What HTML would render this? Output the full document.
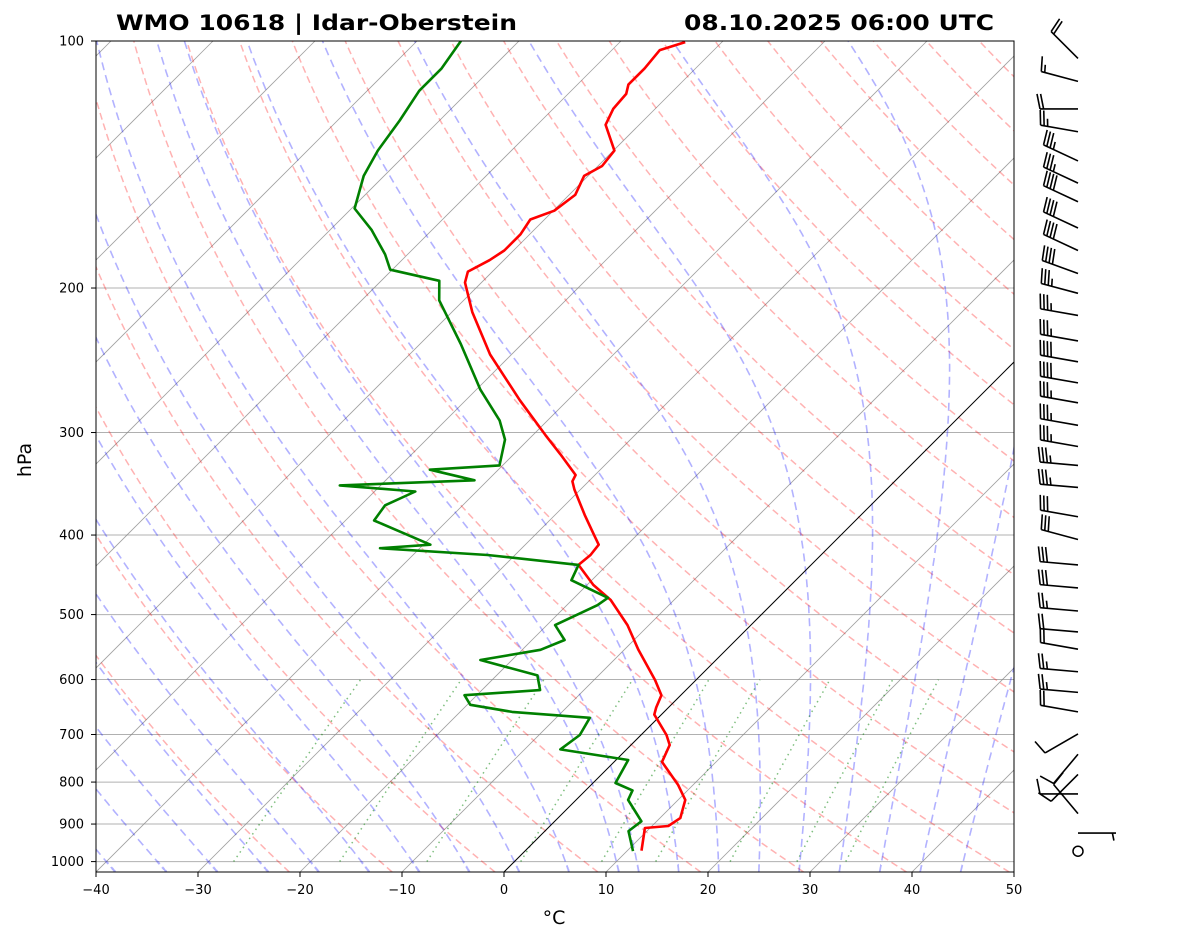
<!DOCTYPE html>
<html><head><meta charset="utf-8">
<style>
html,body{margin:0;padding:0;background:#fff;}
svg{display:block;font-family:"DejaVu Sans","Liberation Sans",sans-serif;}
</style></head>
<body>
<svg id="chart" width="1181" height="941" viewBox="0 0 1181 941" xmlns="http://www.w3.org/2000/svg">
<defs><clipPath id="plotclip"><rect x="96" y="41" width="918" height="831"/></clipPath></defs>
<rect x="0" y="0" width="1181" height="941" fill="#fff"/>
<g id="bg" clip-path="url(#plotclip)"></g>
<g id="prof" clip-path="url(#plotclip)"></g>
<rect x="96" y="41" width="918" height="831" fill="none" stroke="#000" stroke-width="1"/>
<g id="axes"></g>
<g id="barbs"></g>
<text x="116" y="30" font-size="21" font-weight="bold" textLength="401" lengthAdjust="spacingAndGlyphs">WMO 10618 | Idar-Oberstein</text>
<text x="994" y="30" font-size="21" font-weight="bold" text-anchor="end" textLength="310" lengthAdjust="spacingAndGlyphs">08.10.2025 06:00 UTC</text>
<text x="554" y="924" font-size="19" text-anchor="middle">°C</text>
<text x="31" y="460" font-size="19" text-anchor="middle" transform="rotate(-90 31 460)">hPa</text>
</svg>
<script>
// ---- data ----
const pressureTicks = [100,200,300,400,500,600,700,800,900,1000];
const tempTicks = [-40,-30,-20,-10,0,10,20,30,40,50];
const isotherms = [-120,-110,-100,-90,-80,-70,-60,-50,-40,-30,-20,-10,10,20,30,40,50];
const dryThetaK = [250,260,270,280,290,300,310,320,330,340,350,360,370,380,390,400,410,420,430,440,450,460,470,480];
const moistT0 = [-50,-45,-40,-35,-30,-25,-20,-15,-10,-5,0,5,10,12,16,20,24,28,32,36,40,44];
const mixingRatios = [0.0004,0.001,0.002,0.004,0.007,0.01,0.016,0.024,0.032];
const tempP = [970,910,905,885,841,806,756,721,701,662,649,627,601,552,515,480,460,435,423,411,400,378,352,344,338,319,302,274,241,214,197,191,185,180,172,165,161,154,146,142,136,126.5,121,116,113,108,102.6,100.3];
const tempC = [11.4,9.5,11.6,12.0,10.7,8.5,4.7,3.8,2.5,-0.7,-1.2,-1.9,-4.0,-8.6,-12.1,-16.2,-19.4,-22.8,-22.6,-22.8,-24.2,-27.1,-30.6,-31.6,-31.9,-35.4,-38.8,-44.7,-52.1,-58.0,-61.6,-62.4,-61.4,-60.9,-60.9,-61.4,-59.9,-59.4,-60.4,-59.6,-59.9,-63.3,-64.1,-64.3,-65,-65,-65.3,-63.6];
const dewP = [971,918,893,841,819,802,752,730,701,668,657,644,627,618,593,568,552,537,515,487,477,454,435,423,415,411,394,384,368,354,348,343,333,329,306,290,266,234,207,196,190,182,170,160,146,136,125,115,108,100];
const dewC = [10.6,8.2,8.5,5.1,4.6,2.2,1.2,-6.5,-6.0,-6.7,-14.9,-19.7,-21.2,-14.3,-16.0,-23.1,-18.2,-16.8,-19.2,-17.0,-16.7,-22.0,-22.8,-32.7,-43.9,-39.3,-44.2,-47.2,-47.6,-46.0,-54.0,-41.3,-46.7,-40.3,-42.3,-44.7,-49.6,-56.0,-62.4,-64.3,-70.2,-72.2,-75.9,-79.7,-82,-83.1,-83.9,-84.9,-84.9,-85.7];
const barbP = [105,112,121,129,140,149,157,169,180,192,203,216,232,246,261,276,294,312,329,350,380,405,435,464,495,525,551,587,622,657,699,740,783,827,874,923,985];
const barbSpeed = [20,15,20,25,35,35,40,40,40,40,35,35,35,40,40,35,35,35,35,35,30,30,30,30,25,20,20,25,25,20,10,10,10,10,10,5,0];
const barbDir = [315,285,270,280,295,295,295,295,295,290,285,280,280,280,280,280,280,280,275,275,280,285,275,275,275,275,280,275,275,280,240,220,225,270,320,90,0];

// ---- axis functions ----
const NS='http://www.w3.org/2000/svg';
function yP(p){return 41+820.6*Math.log10(p/100);}
function xT(T,p){return 96+(T+40)*10.2+(872-yP(p));}
function mk(tag,attrs,parent){const e=document.createElementNS(NS,tag);for(const k in attrs)e.setAttribute(k,attrs[k]);parent.appendChild(e);return e;}
function pathFrom(pts){return pts.map((q,i)=>(i?'L':'M')+q[0].toFixed(1)+' '+q[1].toFixed(1)).join(' ');}
const bg=document.getElementById('bg'), prof=document.getElementById('prof'), axes=document.getElementById('axes'), barbs=document.getElementById('barbs');
const pBottom=1030, pTop=100;
function plevels(a,b,n){const r=[];for(let i=0;i<=n;i++){r.push(a*Math.pow(b/a,i/n));}return r;}
const PL=plevels(pBottom,pTop,80);

pressureTicks.forEach(p=>{
  const l=mk('line',{x1:96,x2:1014,y1:yP(p),y2:yP(p),stroke:'#b0b0b0','stroke-width':1},bg);
  
  
});
isotherms.forEach(T=>{
  const l=mk('line',{x1:xT(T,pBottom),y1:yP(pBottom),x2:xT(T,pTop),y2:yP(pTop),stroke:'#888','stroke-width':0.8,'stroke-opacity':0.8},bg);
  
  
});
dryThetaK.forEach(th=>{
  const pts=PL.map(p=>[xT(th*Math.pow(p/1000,0.2857)-273.15,p),yP(p)]);
  const e=mk('path',{d:pathFrom(pts),fill:'none',stroke:'#ff0000','stroke-opacity':0.3,'stroke-width':1.5,'stroke-dasharray':'7,4'},bg);
  
  
});
function esat(Tc){return 6.112*Math.exp(17.67*Tc/(Tc+243.5));}
function dTdp(p,TK){const Rd=287.04,Cp=1005.7,Lv=2.501e6,eps=0.622;const es=esat(TK-273.15);const rs=eps*es/(p-es);
  return (1/p)*(Rd*TK+Lv*rs)/(Cp+(Lv*Lv*rs*eps)/(Rd*TK*TK));}
function moist(t0){
  function integ(target){const pts=[];let p=1000,T=t0+273.15;const n=200;const dp=(target-1000)/n;
    for(let i=0;i<n;i++){const k1=dTdp(p,T),k2=dTdp(p+dp/2,T+k1*dp/2),k3=dTdp(p+dp/2,T+k2*dp/2),k4=dTdp(p+dp,T+k3*dp);
      T+=dp*(k1+2*k2+2*k3+k4)/6;p+=dp;pts.push([p,T]);}return pts;}
  const up=integ(100), dn=integ(pBottom).reverse();
  return dn.concat([[1000,t0+273.15]]).concat(up).map(q=>[xT(q[1]-273.15,q[0]),yP(q[0])]);
}
moistT0.forEach(t0=>{
  const e=mk('path',{d:pathFrom(moist(t0)),fill:'none',stroke:'#0000ff','stroke-opacity':0.3,'stroke-width':1.6,'stroke-dasharray':'8,5'},bg);
  
  
});
function tdFromW(w,p){const e=w*p/(0.622+w);const l=Math.log(e/6.112);return 243.5*l/(17.67-l);}
mixingRatios.forEach(w=>{
  const pts=plevels(1000,600,20).map(p=>[xT(tdFromW(w,p),p),yP(p)]);
  const e=mk('path',{d:pathFrom(pts),fill:'none',stroke:'#008000','stroke-opacity':0.5,'stroke-width':1.5,'stroke-dasharray':'1.5,4'},bg);
  
  
});
const z=mk('line',{x1:xT(0,pBottom),y1:yP(pBottom),x2:xT(0,pTop),y2:yP(pTop),stroke:'#000','stroke-width':1},bg);



const tp=mk('path',{d:pathFrom(tempP.map((p,i)=>[xT(tempC[i],p),yP(p)])),fill:'none',stroke:'#ff0000','stroke-width':2.6,'stroke-linejoin':'round'},prof);


const dp=mk('path',{d:pathFrom(dewP.map((p,i)=>[xT(dewC[i],p),yP(p)])),fill:'none',stroke:'#008000','stroke-width':2.6,'stroke-linejoin':'round'},prof);



pressureTicks.forEach(p=>{
  const y=yP(p);
  const t=mk('line',{x1:91,x2:96,y1:y,y2:y,stroke:'#000','stroke-width':1},axes);
  
  
  const tx=mk('text',{x:84,y:y+4.5,'font-size':13,'text-anchor':'end'},axes);
  tx.textContent=p;
  
  
});
tempTicks.forEach(T=>{
  const x=96+(T+40)*10.2;
  const t=mk('line',{x1:x,x2:x,y1:872,y2:877,stroke:'#000','stroke-width':1},axes);
  
  
  const tx=mk('text',{x:x,y:894,'font-size':13,'text-anchor':'middle'},axes);
  tx.textContent=(T<0?'\u2212'+(-T):T);
  
  
});

const BX=1078, L=38;
barbP.forEach((p,i)=>{
  const y=yP(p), s=barbSpeed[i], d=barbDir[i]*Math.PI/180;
  const g=mk('g',{},barbs);
  
  
  if(s<2.5){mk('circle',{cx:BX,cy:y-5,r:5,fill:'none',stroke:'#000','stroke-width':1.5},g);return;}
  const sx=Math.sin(d), sy=-Math.cos(d);
  const px=-sy, py=sx;
  const ex=BX+sx*L, ey=y+sy*L;
  mk('line',{x1:BX,y1:y,x2:ex,y2:ey,stroke:'#000','stroke-width':1.6},g);
  let rem=Math.round(s/5)*5, pos=0;
  const fl=15;
  while(rem>=10){const bx=ex-sx*pos,by=ey-sy*pos;
    mk('line',{x1:bx,y1:by,x2:bx+px*fl+sx*3,y2:by+py*fl+sy*3,stroke:'#000','stroke-width':1.6},g);
    rem-=10;pos+=3.6;}
  if(rem>=5){if(pos===0)pos=3.6;const bx=ex-sx*pos,by=ey-sy*pos;
    mk('line',{x1:bx,y1:by,x2:bx+px*fl/2+sx*1.5,y2:by+py*fl/2+sy*1.5,stroke:'#000','stroke-width':1.6},g);}
});
</script>
</body></html>
